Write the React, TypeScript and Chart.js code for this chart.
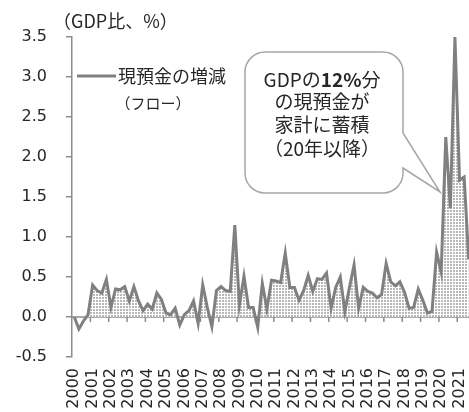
import React, { useEffect, useRef } from 'react';
import { Chart, registerables } from 'chart.js';

Chart.register(...registerables);

// ---- data ----
const yearLabels = [
  '2000', '2001', '2002', '2003', '2004', '2005', '2006', '2007', '2008', '2009', '2010',
  '2011', '2012', '2013', '2014', '2015', '2016', '2017', '2018', '2019', '2020', '2021',
];
const quarterNames = ['Q1', 'Q2', 'Q3', 'Q4'];

// 現預金の増減（フロー）, GDP比 %, quarterly 2000Q1 - 2021Q3
const flowValues = [
  0.0, -0.15, -0.05, 0.03,
  0.40, 0.33, 0.30, 0.47,
  0.12, 0.35, 0.34, 0.38,
  0.20, 0.38, 0.20, 0.08,
  0.16, 0.10, 0.30, 0.22,
  0.05, 0.03, 0.11, -0.10,
  0.03, 0.08, 0.20, -0.08,
  0.40, 0.12, -0.12, 0.33,
  0.38, 0.33, 0.32, 1.15,
  0.15, 0.51, 0.12, 0.12,
  -0.13, 0.42, 0.10, 0.46,
  0.45, 0.43, 0.80, 0.37,
  0.37, 0.21, 0.33, 0.52,
  0.32, 0.48, 0.47, 0.55,
  0.11, 0.37, 0.50, 0.07,
  0.37, 0.65, 0.11, 0.37,
  0.32, 0.30, 0.24, 0.28,
  0.67, 0.44, 0.39, 0.44,
  0.31, 0.11, 0.12, 0.35,
  0.21, 0.05, 0.07, 0.81,
  0.56, 2.25, 1.36, 3.50,
  1.71, 1.75, 0.72,
];

const categories = flowValues.map(
  (_, i) => `${yearLabels[Math.floor(i / 4)]}${quarterNames[i % 4]}`
);

const yMin = -0.5;
const yMax = 3.5;
const yStep = 0.5;

const titleText = '（GDP比、%）';
const legendLine1 = '現預金の増減';
const legendLine2 = '（フロー）';
const calloutLines: { text: string; bold?: boolean }[][] = [
  [{ text: 'GDPの' }, { text: '12%', bold: true }, { text: '分' }],
  [{ text: 'の現預金が' }],
  [{ text: '家計に蓄積' }],
  [{ text: '（20年以降）' }],
];

// ---- styles ----
const LINE_COLOR = '#808080';
const AXIS_COLOR = '#8c8c8c';
const TEXT_COLOR = '#262626';
const JP_FONT = "'Noto Sans CJK JP', 'Noto Sans', sans-serif";
const NUM_FONT = "'DejaVu Sans', sans-serif";

function makeDotPattern(ctx: CanvasRenderingContext2D) {
  const c = document.createElement('canvas');
  c.width = 3;
  c.height = 3;
  const g = c.getContext('2d')!;
  g.fillStyle = '#ffffff';
  g.fillRect(0, 0, 3, 3);
  g.fillStyle = '#b8b8b8';
  g.fillRect(0, 0, 2, 2);
  return ctx.createPattern(c, 'repeat')!;
}

const annotationPlugin = {
  id: 'annotations',
  beforeDatasetsDraw(chart: any) {
    const { ctx, chartArea, scales } = chart;
    const x = scales.x;
    const y = scales.y;
    const y0 = y.getPixelForValue(0);
    ctx.save();
    ctx.strokeStyle = AXIS_COLOR;
    ctx.lineWidth = 1.5;
    ctx.beginPath();
    ctx.moveTo(chartArea.left, y0);
    ctx.lineTo(chartArea.right, y0);
    for (let i = 4; i < categories.length; i += 4) {
      const px = (x.getPixelForValue(i - 1) + x.getPixelForValue(i)) / 2;
      ctx.moveTo(px, y0);
      ctx.lineTo(px, y0 + 5);
    }
    ctx.stroke();
    ctx.restore();
  },
  afterDraw(chart: any) {
    const { ctx } = chart;
    ctx.save();
    // title
    ctx.fillStyle = TEXT_COLOR;
    ctx.textBaseline = 'middle';
    ctx.textAlign = 'left';
    ctx.font = `18px ${JP_FONT}`;
    ctx.fillText(titleText, 53, 21);

    // legend
    ctx.strokeStyle = LINE_COLOR;
    ctx.lineWidth = 3;
    ctx.beginPath();
    ctx.moveTo(77, 76);
    ctx.lineTo(116, 76);
    ctx.stroke();
    ctx.font = `18px ${JP_FONT}`;
    ctx.fillText(legendLine1, 118, 76);
    ctx.textAlign = 'center';
    ctx.font = `15px ${JP_FONT}`;
    ctx.fillText(legendLine2, 153, 103);

    // callout
    const L = 245, T = 52, R = 403, B = 193, r = 20;
    ctx.beginPath();
    ctx.moveTo(L + r, T);
    ctx.lineTo(R - r, T);
    ctx.arcTo(R, T, R, T + r, r);
    ctx.lineTo(R, 133);
    ctx.lineTo(440, 192);
    ctx.lineTo(R, 168);
    ctx.lineTo(R, B - r);
    ctx.arcTo(R, B, R - r, B, r);
    ctx.lineTo(L + r, B);
    ctx.arcTo(L, B, L, B - r, r);
    ctx.lineTo(L, T + r);
    ctx.arcTo(L, T, L + r, T, r);
    ctx.closePath();
    ctx.fillStyle = '#ffffff';
    ctx.fill();
    ctx.strokeStyle = '#a6a6a6';
    ctx.lineWidth = 1.5;
    ctx.stroke();

    ctx.fillStyle = TEXT_COLOR;
    ctx.textAlign = 'left';
    const cx = 322;
    const lineYs = [80, 102, 125, 149];
    calloutLines.forEach((segs, li) => {
      let total = 0;
      const widths = segs.map((s) => {
        ctx.font = `${s.bold ? 'bold ' : ''}19px ${JP_FONT}`;
        const w = ctx.measureText(s.text).width;
        total += w;
        return w;
      });
      let sx = cx - total / 2;
      segs.forEach((s, si) => {
        ctx.font = `${s.bold ? 'bold ' : ''}19px ${JP_FONT}`;
        ctx.fillText(s.text, sx, lineYs[li]);
        sx += widths[si];
      });
    });
    ctx.restore();
  },
};

export default function App() {
  const canvasRef = useRef<HTMLCanvasElement | null>(null);

  useEffect(() => {
    const canvas = canvasRef.current!;
    const ctx = canvas.getContext('2d')!;
    const pattern = makeDotPattern(ctx);
    const chart = new Chart(canvas, {
      type: 'line',
      data: {
        labels: categories,
        datasets: [
          {
            label: legendLine1,
            data: flowValues,
            borderColor: LINE_COLOR,
            borderWidth: 3,
            pointRadius: 0,
            tension: 0,
            borderJoinStyle: 'miter',
            fill: { target: 'origin', above: pattern, below: 'rgba(0,0,0,0)' },
            backgroundColor: pattern,
          } as any,
        ],
      },
      options: {
        responsive: false,
        animation: false,
        devicePixelRatio: 1,
        layout: { padding: { top: 37, right: 9, bottom: 0, left: 0 } },
        plugins: {
          legend: { display: false },
          tooltip: { enabled: false },
        },
        scales: {
          x: {
            type: 'category',
            offset: true,
            grid: { display: false, drawTicks: false },
            border: { display: false },
            ticks: {
              autoSkip: false,
              minRotation: 90,
              maxRotation: 90,
              padding: 11,
              color: TEXT_COLOR,
              font: { family: NUM_FONT, size: 16 },
              callback: (_v: any, i: number) => (i % 4 === 0 ? yearLabels[i / 4] : ''),
            },
            afterFit: (s: any) => {
              s.height = 55;
              s.paddingLeft = 0;
              s.paddingRight = 0;
            },
          },
          y: {
            min: yMin,
            max: yMax,
            grid: {
              drawOnChartArea: false,
              drawTicks: true,
              tickLength: 6,
              color: AXIS_COLOR,
              lineWidth: 1.5,
            },
            border: { display: true, color: AXIS_COLOR, width: 1.5 },
            ticks: {
              stepSize: yStep,
              padding: 19,
              color: TEXT_COLOR,
              font: { family: NUM_FONT, size: 16 },
              callback: (v: any) => Number(v).toFixed(1),
            },
            afterFit: (s: any) => {
              s.width = 72;
              s.paddingTop = 0;
              s.paddingBottom = 0;
            },
          },
        },
      },
      plugins: [annotationPlugin],
    });
    return () => chart.destroy();
  }, []);

  return (
    <div
      style={{
        position: 'fixed',
        left: 0,
        top: 0,
        width: 469,
        height: 412,
        overflow: 'hidden',
        background: '#fff',
      }}
    >
      <canvas ref={canvasRef} width={480} height={412} style={{ width: 480, height: 412, display: 'block' }} />
    </div>
  );
}
